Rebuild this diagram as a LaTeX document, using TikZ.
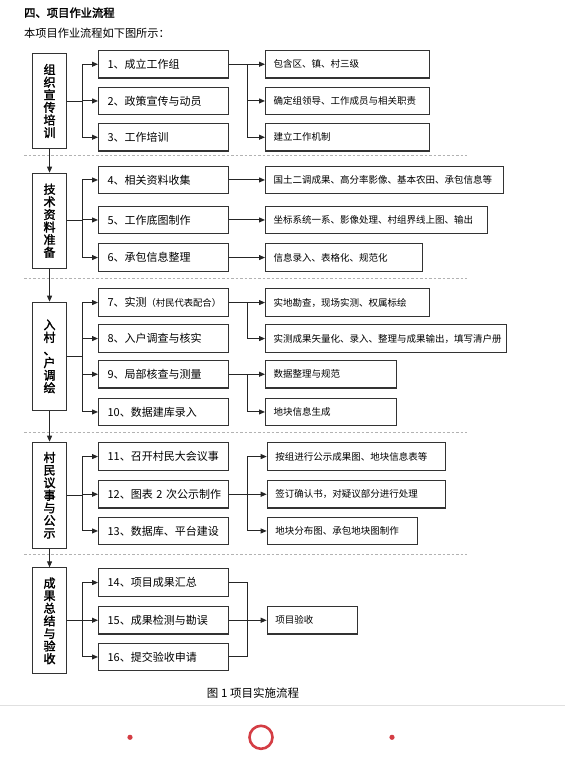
\documentclass[tikz,border=0pt]{standalone}
\usepackage{fontspec}
\setmainfont{Noto Sans CJK SC}[AutoFakeBold=2]
\usepackage{tikz}
\usetikzlibrary{arrows.meta,calc}
\definecolor{navred}{HTML}{D43D44}
\tikzset{
  phase/.style={draw=black!80, line width=1.1pt, anchor=north west,
    minimum width=34pt, inner sep=0pt, text width=14pt, align=center,
    font=\fontsize{12}{12.6}\selectfont\bfseries},
  task/.style={draw=black!80, line width=1.1pt, anchor=north west,
    minimum height=27.4pt, inner xsep=9pt, inner ysep=0pt, text width=112pt,
    align=left, font=\fontsize{11}{13}\selectfont},
  note/.style={draw=black!80, line width=1.1pt, anchor=north west,
    minimum height=27.4pt, inner xsep=8pt, inner ysep=0pt, align=left,
    font=\fontsize{9.5}{11}\selectfont},
  link/.style={line width=1pt, black!85},
  flow/.style={link, -{Triangle[length=6pt,width=5pt]}},
  sep/.style={black!30, line width=0.8pt, dash pattern=on 2.5pt off 2pt}
}
\newcommand{\smpar}{\fontsize{9.3}{11}\selectfont}

\begin{document}
\begin{tikzpicture}[x=1pt, y=-1pt]
  \useasboundingbox (0,0) rectangle (565,768);
  \coordinate (lk) at (82,0);
  \coordinate (rk) at (247,0);

  % header
  \node[anchor=west, inner sep=0pt, font=\fontsize{11.3}{13}\selectfont\bfseries] (title) at (24,12.7) {四、项目作业流程};
  \node[anchor=west, inner sep=0pt, font=\fontsize{11.2}{13}\selectfont] (intro) at (24,33.3) {本项目作业流程如下图所示：};

  % phase 1
  \node[phase, minimum height=95pt] (p1) at (32,53) {组\\织\\宣\\传\\培\\训};
  \node[task] (t1) at (98,50) {1、成立工作组};
  \node[task] (t2) at (98,86.7) {2、政策宣传与动员};
  \node[task] (t3) at (98,123) {3、工作培训};
  \node[note, text width=148pt] (n1) at (265,50) {包含区、镇、村三级};
  \node[note, text width=148pt] (n2) at (265,86.7) {确定组领导、工作成员与相关职责};
  \node[note, text width=148pt] (n3) at (265,123) {建立工作机制};
  \draw[link] (p1) -- (lk |- p1) (lk |- t1) -- (lk |- t3);
  \draw[flow] (lk |- t1) -- (t1);
  \draw[flow] (lk |- t2) -- (t2);
  \draw[flow] (lk |- t3) -- (t3);
  \draw[flow] (t1) -- (n1);
  \draw[link] (rk |- n1) -- (rk |- n3);
  \draw[flow] (rk |- n2) -- (n2);
  \draw[flow] (rk |- n3) -- (n3);
  \draw[sep] (24,155.5) -- (467,155.5);

  % phase 2
  \node[phase, minimum height=95pt] (p2) at (32,172.7) {技\\术\\资\\料\\准\\备};
  \node[task] (t4) at (98,165.7) {4、相关资料收集};
  \node[task] (t5) at (98,205.7) {5、工作底图制作};
  \node[task] (t6) at (98,243.3) {6、承包信息整理};
  \node[note, text width=222pt] (n4) at (265,165.7) {国土二调成果、高分率影像、基本农田、承包信息等};
  \node[note, text width=206pt] (n5) at (265,205.7) {坐标系统一系、影像处理、村组界线上图、输出};
  \node[note, text width=141pt] (n6) at (265,243.3) {信息录入、表格化、规范化};
  \draw[flow] (p1) -- (p2);
  \draw[link] (p2) -- (lk |- p2) (lk |- t4) -- (lk |- t6);
  \draw[flow] (lk |- t4) -- (t4);
  \draw[flow] (lk |- t5) -- (t5);
  \draw[flow] (lk |- t6) -- (t6);
  \draw[flow] (t4) -- (n4);
  \draw[flow] (t5) -- (n5);
  \draw[flow] (t6) -- (n6);
  \draw[sep] (24,278) -- (467,278);

  % phase 3
  \node[phase, minimum height=108.3pt] (p3) at (32,301.7) {入\\村\\、\\户\\调\\绘};
  \node[task] (t7) at (98,288.3) {7、实测{\smpar（村民代表配合）}};
  \node[task] (t8) at (98,324.3) {8、入户调查与核实};
  \node[task] (t9) at (98,360) {9、局部核查与测量};
  \node[task] (t10) at (98,397.7) {10、数据建库录入};
  \node[note, text width=148pt] (n7) at (265,288.3) {实地勘查，现场实测、权属标绘};
  \node[note, text width=225pt] (n8) at (265,324.3) {实测成果矢量化、录入、整理与成果输出，填写清户册};
  \node[note, text width=115pt] (n9) at (265,360) {数据整理与规范};
  \node[note, text width=115pt] (n10) at (265,397.7) {地块信息生成};
  \draw[flow] (p2) -- (p3);
  \draw[link] (p3) -- (lk |- p3) (lk |- t7) -- (lk |- t10);
  \draw[flow] (lk |- t7) -- (t7);
  \draw[flow] (lk |- t8) -- (t8);
  \draw[flow] (lk |- t9) -- (t9);
  \draw[flow] (lk |- t10) -- (t10);
  \draw[flow] (t7) -- (n7);
  \draw[link] (rk |- n7) -- (rk |- n8);
  \draw[flow] (rk |- n8) -- (n8);
  \draw[flow] (t9) -- (n9);
  \draw[link] (rk |- n9) -- (rk |- n10);
  \draw[flow] (rk |- n10) -- (n10);
  \draw[sep] (24,432.3) -- (467,432.3);

  % phase 4
  \node[phase, minimum height=106pt] (p4) at (32,441.7) {村\\民\\议\\事\\与\\公\\示};
  \node[task] (t11) at (98,442.3) {11、召开村民大会议事};
  \node[task] (t12) at (98,480) {12、图表~2~次公示制作};
  \node[task] (t13) at (98,516.7) {13、数据库、平台建设};
  \node[note, text width=162pt] (n11) at (266.7,442.3) {按组进行公示成果图、地块信息表等};
  \node[note, text width=162pt] (n12) at (266.7,480) {签订确认书，对疑议部分进行处理};
  \node[note, text width=134pt] (n13) at (266.7,516.7) {地块分布图、承包地块图制作};
  \draw[flow] (p3) -- (p4);
  \draw[link] (p4) -- (lk |- p4) (lk |- t11) -- (lk |- t13);
  \draw[flow] (lk |- t11) -- (t11);
  \draw[flow] (lk |- t12) -- (t12);
  \draw[flow] (lk |- t13) -- (t13);
  \draw[flow] (t12) -- (n12);
  \draw[link] (rk |- n11) -- (rk |- n13);
  \draw[flow] (rk |- n11) -- (n11);
  \draw[flow] (rk |- n13) -- (n13);
  \draw[sep] (24,554.5) -- (467,554.5);

  % phase 5
  \node[phase, minimum height=106pt] (p5) at (32,567.3) {成\\果\\总\\结\\与\\验\\收};
  \node[task] (t14) at (98,568.3) {14、项目成果汇总};
  \node[task] (t15) at (98,606) {15、成果检测与勘误};
  \node[task] (t16) at (98,642.7) {16、提交验收申请};
  \node[note, text width=74pt] (n15) at (266.7,606) {项目验收};
  \draw[flow] (p4) -- (p5);
  \draw[link] (p5) -- (lk |- p5) (lk |- t14) -- (lk |- t16);
  \draw[flow] (lk |- t14) -- (t14);
  \draw[flow] (lk |- t15) -- (t15);
  \draw[flow] (lk |- t16) -- (t16);
  \draw[link] (t14) -- (rk |- t14) -- (rk |- t16) -- (t16);
  \draw[flow] (t15) -- (n15);

  % caption and footer bar
  \node[font=\fontsize{11.5}{13}\selectfont] (cap) at (253,692.7) {图~1~项目实施流程};
  \draw[black!12, line width=0.8pt] (0,705.7) -- (565,705.7);
  \fill[navred] (130,737.3) circle (2.6pt);
  \fill[navred] (392,737.3) circle (2.6pt);
  \draw[navred, line width=2.6pt] (261,737.3) circle (11.5pt);
\end{tikzpicture}
\end{document}
